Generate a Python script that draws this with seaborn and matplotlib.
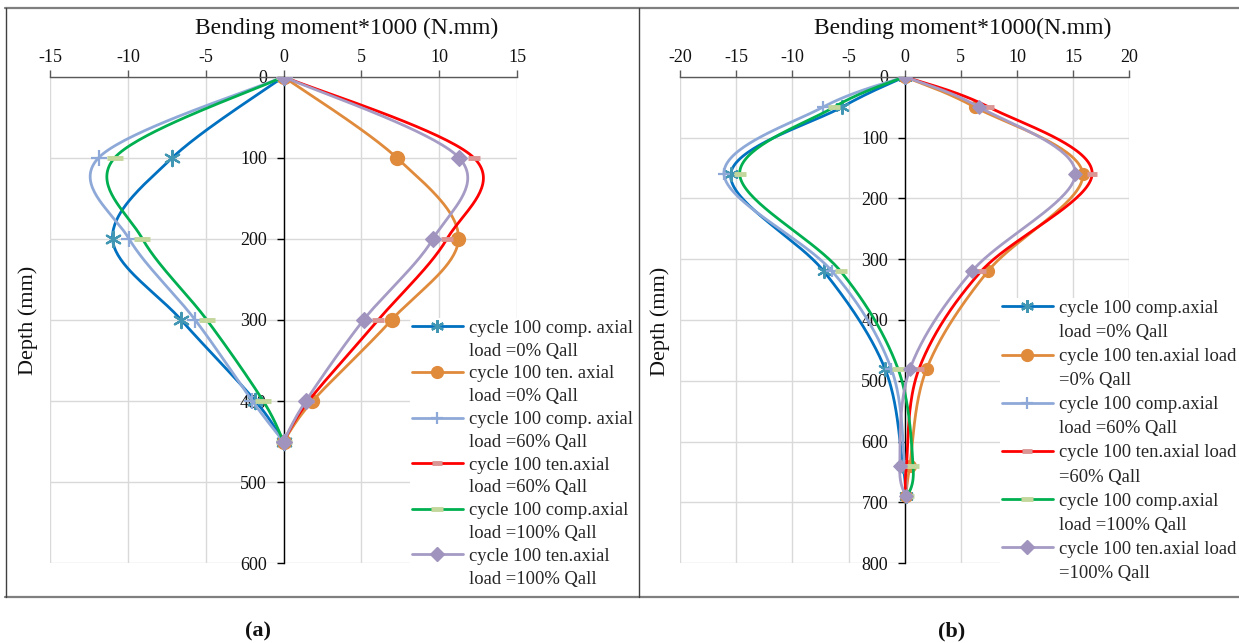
import numpy as np
import pandas as pd
import matplotlib
matplotlib.use("Agg")
import matplotlib.pyplot as plt
from matplotlib.lines import Line2D
import seaborn as sns

# ---------------- data ----------------
depth_a = [0, 100, 200, 300, 400, 450]
a_comp0 = [0, -7.15, -10.98, -6.57, -1.8, 0]
a_ten0 = [0, 7.28, 11.24, 6.94, 1.86, 0]
a_comp60 = [0, -11.88, -9.92, -5.67, -2.0, 0]
a_ten60 = [0, 12.23, 10.5, 6.08, 1.6, 0]
a_comp100 = [0, -10.85, -9.06, -4.92, -1.3, 0]
a_ten100 = [0, 11.28, 9.6, 5.14, 1.43, 0]

depth_b = [0, 50, 160, 320, 480, 640, 690]
b_comp0 = [0, -5.6, -15.5, -7.2, -1.76, -0.15, 0.1]
b_ten0 = [0, 6.25, 15.86, 7.4, 1.96, 0.45, 0.1]
b_comp60 = [0, -7.28, -16.1, -6.46, -1.2, 0.0, 0.1]
b_ten60 = [0, 7.5, 16.7, 6.8, 1.28, 0.15, 0.1]
b_comp100 = [0, -6.3, -14.7, -5.7, -0.6, 0.75, 0.25]
b_ten100 = [0, 6.64, 15.2, 5.98, 0.48, -0.44, 0.1]

labels_a = [("cycle 100 comp. axial", "load =0% Qall"),
            ("cycle 100 ten. axial", "load =0% Qall"),
            ("cycle 100 comp. axial", "load =60% Qall"),
            ("cycle 100 ten.axial", "load =60% Qall"),
            ("cycle 100 comp.axial", "load =100% Qall"),
            ("cycle 100 ten.axial", "load =100% Qall")]
labels_b = [("cycle 100 comp.axial", "load =0% Qall"),
            ("cycle 100 ten.axial load", "=0% Qall"),
            ("cycle 100 comp.axial", "load =60% Qall"),
            ("cycle 100 ten.axial load", "=60% Qall"),
            ("cycle 100 comp.axial", "load =100% Qall"),
            ("cycle 100 ten.axial load", "=100% Qall")]

xticks_a = [-15, -10, -5, 0, 5, 10, 15]
yticks_a = [0, 100, 200, 300, 400, 500, 600]
xticks_b = [-20, -15, -10, -5, 0, 5, 10, 15, 20]
yticks_b = [0, 100, 200, 300, 400, 500, 600, 700, 800]

# ---------------- styles ----------------
styles = [
    dict(lc="#0070C0", m=(6, 2, 0), mfc="#4197B3", mec="#4197B3", ms=11, mew=1.6),
    dict(lc="#E08A3C", m="o", mfc="#E08A3C", mec="#E08A3C", ms=10, mew=1),
    dict(lc="#8EA9D8", m="+", mfc="#8EA9D8", mec="#8EA9D8", ms=11, mew=1.6),
    dict(lc="#FF0000", m="_", mfc="#D99694", mec="#D99694", ms=9, mew=3.5),
    dict(lc="#00B050", m="_", mfc="#C3D69B", mec="#C3D69B", ms=11, mew=3.5),
    dict(lc="#A59BC4", m="D", mfc="#A094BE", mec="#A094BE", ms=8, mew=1),
]

sns.set_theme(style="white")
plt.rcParams["font.family"] = ["Liberation Serif", "DejaVu Serif"]

W, H = 1239, 643
fig = plt.figure(figsize=(W / 100, H / 100), dpi=100)


def smooth(xs, ys, n=40):
    P = np.column_stack([xs, ys]).astype(float)
    P = np.vstack([P[0], P, P[-1]])
    out = []
    t = np.linspace(0, 1, n, endpoint=False)[:, None]
    for i in range(1, len(P) - 2):
        p0, p1, p2, p3 = P[i - 1], P[i], P[i + 1], P[i + 2]
        seg = 0.5 * (2 * p1 + (-p0 + p2) * t + (2 * p0 - 5 * p1 + 4 * p2 - p3) * t ** 2
                     + (-p0 + 3 * p1 - 3 * p2 + p3) * t ** 3)
        out.append(seg)
    out.append(P[-2][None])
    return np.vstack(out)


def fx(px):
    return px / W


def fy(py):
    return 1 - py / H


def panel(rect, depth, series, labels, xticks, yticks, ylim, msscale, leg_anchor, lspace,
          title, title_xy, ylab_xy):
    ax = fig.add_axes(rect)
    ax.set_facecolor("none")
    for k, (vals, st) in enumerate(zip(series, styles)):
        cur = smooth(vals, depth)
        df = pd.DataFrame({"m": cur[:, 0], "d": cur[:, 1]})
        sns.lineplot(data=df, x="m", y="d", sort=False, estimator=None, ax=ax,
                     color=st["lc"], linewidth=2.0, zorder=3 + k)
        dm = pd.DataFrame({"m": vals, "d": depth})
        if st["m"] in ("+", "_"):
            sns.scatterplot(data=dm, x="m", y="d", ax=ax, marker=st["m"], color=st["mec"],
                            s=(st["ms"] * msscale) ** 2, linewidth=st["mew"], zorder=3.5 + k)
        else:
            sns.scatterplot(data=dm, x="m", y="d", ax=ax, marker=st["m"], color=st["mfc"],
                            edgecolor=st["mec"], s=(st["ms"] * msscale) ** 2,
                            linewidth=st["mew"], zorder=3.5 + k)
    ax.set_xlim(xticks[0], xticks[-1])
    ax.set_ylim(ylim, 0)
    ax.set_xticks(xticks)
    ax.set_yticks(yticks)
    ax.set_xticklabels([str(v) for v in xticks])
    ax.set_yticklabels([str(v) for v in yticks])
    ax.grid(True, color="#D9D9D9", linewidth=1.0, zorder=0)
    ax.set_axisbelow(True)
    ax.xaxis.tick_top()
    for s in ("right", "bottom"):
        ax.spines[s].set_visible(False)
    ax.spines["top"].set_color("#595959")
    ax.spines["top"].set_linewidth(1.0)
    ax.spines["left"].set_position(("data", 0))
    ax.spines["left"].set_color("#000000")
    ax.spines["left"].set_linewidth(1.0)
    ax.spines["left"].set_zorder(2)
    ax.tick_params(axis="x", which="both", top=True, bottom=False, direction="out",
                   length=5, width=1, color="#595959", labelsize=13, pad=3, labelcolor="#111111")
    ax.tick_params(axis="y", which="both", left=True, direction="out", length=5, width=1,
                   color="#000000", labelsize=13, pad=7, labelcolor="#111111")
    ax.set_xlabel("")
    ax.set_ylabel("")
    # legend with labels on two lines, handle aligned to first line
    handles, labs = [], []
    for st, (l1, l2) in zip(styles, labels):
        handles.append(Line2D([], [], color=st["lc"], linewidth=2.0, marker=st["m"],
                              markerfacecolor=st["mfc"], markeredgecolor=st["mec"],
                              markersize=st["ms"] * 0.85, markeredgewidth=st["mew"]))
        labs.append(l1)
        handles.append(Line2D([], [], linestyle="none"))
        labs.append(l2)
    leg = ax.legend(handles, labs, loc="upper left", bbox_to_anchor=leg_anchor,
                    bbox_transform=fig.transFigure, frameon=True, facecolor="white",
                    edgecolor="none", framealpha=1, fontsize=13.4, labelspacing=lspace,
                    handlelength=2.75, handletextpad=0.3, borderpad=0.1, borderaxespad=0)
    leg.set_zorder(20)
    fig.text(fx(title_xy[0]), fy(title_xy[1]), title, ha="center", va="center", fontsize=17,
             color="#111111")
    fig.text(fx(ylab_xy[0]), fy(ylab_xy[1]), "Depth (mm)", ha="center", va="center",
             rotation=90, fontsize=16, color="#111111")
    return ax


series_a = [a_comp0, a_ten0, a_comp60, a_ten60, a_comp100, a_ten100]
series_b = [b_comp0, b_ten0, b_comp60, b_ten60, b_comp100, b_ten100]

panel([fx(50), fy(563.3), 467 / W, 486.6 / H], depth_a, series_a, labels_a, xticks_a, yticks_a,
      600, 1.0, (fx(410), fy(318)), 0.31, "Bending moment*1000 (N.mm)", (347, 28), (28, 320))
panel([fx(680.2), fy(563.3), 449 / W, 486.6 / H], depth_b, series_b, labels_b, xticks_b, yticks_b,
      800, 0.85, (fx(1000), fy(298)), 0.38, "Bending moment*1000(N.mm)", (963, 28), (660, 321))

# frame lines
def fl(x0, y0, x1, y1, c, lw):
    fig.add_artist(Line2D([fx(x0), fx(x1)], [fy(y0), fy(y1)], transform=fig.transFigure,
                          color=c, linewidth=lw))

fl(5, 8, 1239, 8, "#7F7F7F", 1.6)
fl(5, 597, 1239, 597, "#7F7F7F", 1.6)
fl(5.5, 8, 5.5, 597, "#404040", 1.0)
fl(639, 8, 639, 597, "#404040", 1.0)

fig.text(fx(258), fy(631), "(a)", ha="center", va="center", fontsize=16, fontweight="bold",
         color="#111111")
fig.text(fx(952), fy(631), "(b)", ha="center", va="center", fontsize=16, fontweight="bold",
         color="#111111")

fig.savefig("out.png", dpi=100)
